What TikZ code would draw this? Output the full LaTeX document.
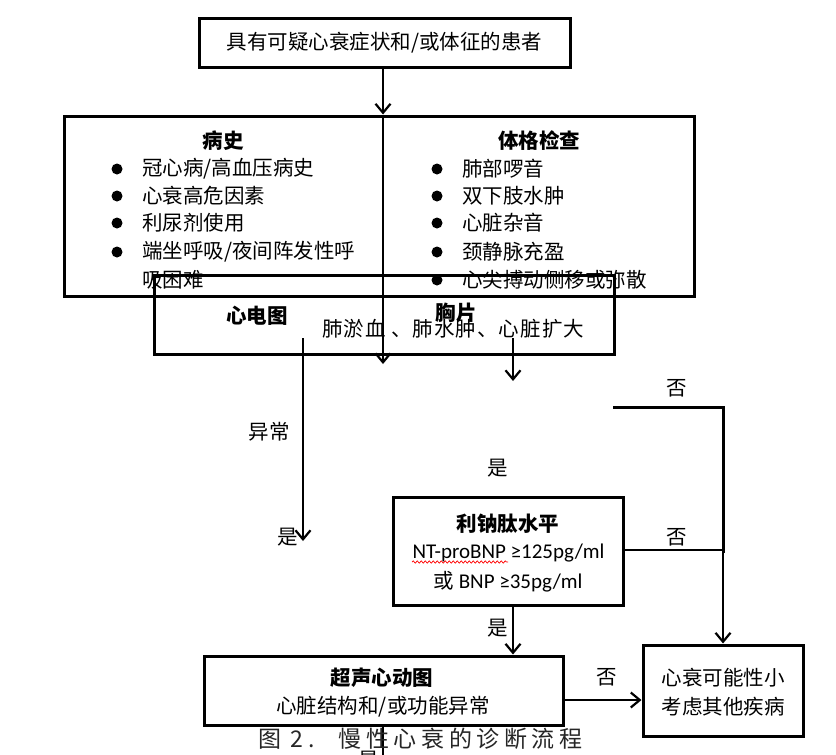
\documentclass[tikz,border=0pt]{standalone}
\usepackage{fontspec}
\setmainfont{Noto Sans CJK SC}
\newfontfamily\cjkfont{Noto Sans CJK SC}
\newfontfamily\latinfont{Carlito}
\newfontfamily\capfont[LetterSpace=20]{Noto Sans CJK SC}
\newfontfamily\widefont[LetterSpace=5]{Noto Sans CJK SC}
\usetikzlibrary{arrows.meta,decorations.pathmorphing}
\newcommand{\fzA}{\fontsize{20.5}{24}\selectfont}
\begin{document}
\begin{tikzpicture}[x=1pt,y=-1pt,
  box/.style={draw, line width=3pt, inner sep=0pt},
  arr/.style={line width=2.2pt, -{Straight Barb[length=9pt,width=15pt,line width=2.2pt]}},
  thk/.style={line width=3pt},
  thn/.style={line width=2.2pt},
  txt/.style={font=\fzA, inner sep=0pt},
  hd/.style={font=\fzA\bfseries, inner sep=0pt},
  lat/.style={font=\fontsize{21}{24}\selectfont\latinfont, inner sep=0pt},
  dot/.style={circle, fill, inner sep=0pt, minimum size=11pt},
  lbl/.style={font=\fzA, inner sep=0pt},
]
\useasboundingbox (0,0) rectangle (836,755);
\fill[white] (0,0) rectangle (836,755);

% boxes
\node[box, font=\fzA, minimum width=371pt, minimum height=49pt] (top) at (384.5,42.5) {具有可疑心衰症状和/或体征的患者};
\node[box, minimum width=630pt, minimum height=180pt] (hist) at (379,206) {};
\node[box, minimum width=460pt, minimum height=79pt] (ecg) at (384,314.5) {};
\node[box, minimum width=230pt, minimum height=108pt] (bnp) at (508,551) {};
\node[box, minimum width=359pt, minimum height=69pt] (echo) at (383.5,690.5) {};
\node[box, minimum width=160pt, minimum height=91pt] (other) at (723,690.5) {};

% history / exam content
\node[hd] (h1) at (223,141) {病史};
\node[hd] (h2) at (539,141) {体格检查};
\node[dot] (lb1) at (117,169) {};
\node[dot] (lb2) at (117,196) {};
\node[dot] (lb3) at (117,223) {};
\node[dot] (lb4) at (117,252) {};
\node[txt, anchor=west] (lt1) at (142,169) {冠心病/高血压病史};
\node[txt, anchor=west] (lt2) at (142,196) {心衰高危因素};
\node[txt, anchor=west] (lt3) at (142,223) {利尿剂使用};
\node[txt, anchor=west] (lt4) at (142,252) {端坐呼吸/夜间阵发性呼};
\node[txt, anchor=west] (lt5) at (142,280) {吸困难};
\node[dot] (rb1) at (437,169) {};
\node[dot] (rb2) at (437,196) {};
\node[dot] (rb3) at (437,223) {};
\node[dot] (rb4) at (437,252) {};
\node[dot] (rb5) at (437,280) {};
\node[txt, anchor=west] (rt1) at (462,169) {肺部啰音};
\node[txt, anchor=west] (rt2) at (462,196) {双下肢水肿};
\node[txt, anchor=west] (rt3) at (462,223) {心脏杂音};
\node[txt, anchor=west] (rt4) at (462,252) {颈静脉充盈};
\node[txt, anchor=west] (rt5) at (462,280) {心尖搏动侧移或弥散};

% ecg / x-ray content
\node[hd] (e1) at (257,316) {心电图};
\node[hd] (e2) at (456,313) {胸片};
\node[txt, font=\widefont\fzA, anchor=west] (e3) at (322,329) {肺淤血 、肺水肿、心脏扩大};

% bnp content
\node[hd] (n1) at (508,524) {利钠肽水平};
\node[lat] (n2) at (508.5,553) {NT-proBNP ≥125pg/ml};
\node[lat] (n3) at (508,582) {{\cjkfont\fzA 或} BNP ≥35pg/ml};
\draw[red, line width=0.7pt, decorate, decoration={snake, amplitude=1.1pt, segment length=4pt}] (412,562) -- (508,562);

% echo content
\node[hd] (c1) at (382,678) {超声心动图};
\node[txt] (c2) at (383,707) {心脏结构和/或功能异常};

% other content
\node[txt] (o1) at (723,678) {心衰可能性小};
\node[txt] (o2) at (723,707) {考虑其他疾病};

% connectors
\coordinate (cx) at (383,0);
\coordinate (cend) at (383,364);
\draw[arr] (top.south -| cx) -- (hist.north -| cx);
\draw[arr] (hist.north -| cx) -- (cend);

\coordinate (l1) at (303,338);
\coordinate (l2) at (303,541);
\draw[arr] (l1) -- (l2);

\coordinate (r1) at (513,338);
\coordinate (r2) at (513,381);
\draw[arr] (r1) -- (r2);

\coordinate (u1) at (613,407);
\coordinate (u2) at (723,407);
\coordinate (u3) at (723,553);
\draw[thk] (u1) -- (u2) -- (u3);

\coordinate (m1) at (723,550);
\draw[thn] (bnp.east |- m1) -- (m1);
\draw[arr] (m1) -- (other.north);

\coordinate (bx) at (513,0);
\draw[arr] (bnp.south -| bx) -- (echo.north -| bx);

\coordinate (ay) at (0,700);
\draw[arr] (echo.east |- ay) -- (other.west |- ay);

\coordinate (bot) at (383,770);
\draw[thn] (echo.south -| cx) -- (bot);

% labels
\node[lbl] (no1) at (677,388) {否};
\node[lbl] (ab) at (269,432) {异常};
\node[lbl] (yes1) at (498,468) {是};
\node[lbl] (yes2) at (288,537) {是};
\node[lbl] (no2) at (677,537) {否};
\node[lbl] (yes3) at (498,628) {是};
\node[lbl] (no3) at (607,677) {否};
\node[lbl] (yes4) at (369,760) {是};

% caption
\node[font=\capfont\fontsize{23}{26}\selectfont, text=black!85, inner sep=0pt, anchor=west] (cap) at (258,739) {图 2.\hspace{24pt}慢性心衰的诊断流程};
\end{tikzpicture}
\end{document}
